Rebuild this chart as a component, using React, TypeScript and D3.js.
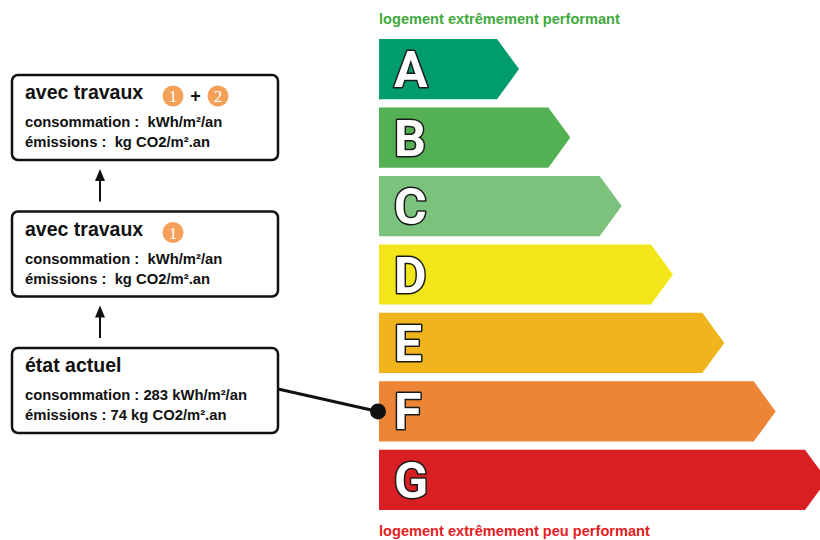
import React, { useEffect, useRef } from 'react';
import * as d3 from 'd3';

// energy classes, best to worst
const classes = ['A', 'B', 'C', 'D', 'E', 'F', 'G'];
const classColors = ['#009c6d', '#53b154', '#7bc27c', '#f2e61b', '#f0b41d', '#ec8536', '#d71f24'];
// relative bar length (rank) of each class
const classRank = [0, 1, 2, 3, 4, 5, 6];

// boxes on the left, from top to bottom
const boxTitles = ['avec travaux', 'avec travaux', 'état actuel'];
const boxBadges = [['1', '2'], ['1'], []];
const boxConso = ['consommation :  kWh/m²/an', 'consommation :  kWh/m²/an', 'consommation : 283 kWh/m²/an'];
const boxEmis = ['émissions :  kg CO2/m².an', 'émissions :  kg CO2/m².an', 'émissions : 74 kg CO2/m².an'];
const currentClass = 'F';

const topLabel = 'logement extrêmement performant';
const bottomLabel = 'logement extrêmement peu performant';

const App = () => {
  const ref = useRef(null);
  const width = 820;
  const height = 540;

  useEffect(() => {
    const svg = d3.select(ref.current);
    svg.selectAll('*').remove();

    const font = '"Liberation Sans", Arial, sans-serif';

    // vertical band per class
    const y = d3.scaleBand().domain(classes).range([39, 510]).paddingInner(0.12);
    // tip position of each arrow
    const tip = d3.scaleLinear().domain([0, 6]).range([519, 827]);
    const x0 = 379;
    const point = 22;

    svg.append('text')
      .attr('x', x0).attr('y', 24)
      .attr('font-family', font).attr('font-weight', 'bold').attr('font-size', 14.6)
      .attr('fill', '#3fa93d')
      .text(topLabel);

    svg.append('text')
      .attr('x', x0).attr('y', 535.5)
      .attr('font-family', font).attr('font-weight', 'bold').attr('font-size', 14.6)
      .attr('fill', '#e3201e')
      .text(bottomLabel);

    const bars = svg.selectAll('.cls')
      .data(classes)
      .enter().append('g')
      .attr('class', 'cls');

    bars.append('path')
      .attr('d', (d, i) => {
        const top = y(d);
        const h = y.bandwidth();
        const t = tip(classRank[i]);
        return `M${x0},${top}H${t - point}L${t},${top + h / 2}L${t - point},${top + h}H${x0}Z`;
      })
      .attr('fill', (d, i) => classColors[i]);

    bars.append('text')
      .attr('x', x0 + 15)
      .attr('y', d => y(d) + y.bandwidth() / 2 + 18)
      .attr('font-family', 'Roboto, sans-serif')
      .attr('font-weight', 'bold')
      .attr('font-size', 50)
      .attr('fill', '#fff')
      .attr('stroke', '#1a1a1a')
      .attr('stroke-width', 3)
      .attr('paint-order', 'stroke')
      .attr('stroke-linejoin', 'round')
      .text(d => d);

    // left boxes
    const boxY = d3.scalePoint().domain(d3.range(boxTitles.length).map(String)).range([75, 348]);
    const bx = 12, bw = 266, bh = 85;

    boxTitles.forEach((title, i) => {
      const top = boxY(String(i));
      const g = svg.append('g');
      g.append('rect')
        .attr('x', bx).attr('y', top).attr('width', bw).attr('height', bh)
        .attr('rx', 6)
        .attr('fill', '#fff').attr('stroke', '#111').attr('stroke-width', 2.5);
      g.append('text')
        .attr('x', 25).attr('y', top + 24)
        .attr('font-family', font).attr('font-weight', 'bold').attr('font-size', 19.5)
        .attr('fill', '#111')
        .text(title);
      g.append('text')
        .attr('x', 25).attr('y', top + 52)
        .attr('font-family', font).attr('font-weight', 'bold').attr('font-size', 14.8)
        .attr('fill', '#111')
        .style('white-space', 'pre')
        .text(boxConso[i]);
      g.append('text')
        .attr('x', 25).attr('y', top + 72)
        .attr('font-family', font).attr('font-weight', 'bold').attr('font-size', 14.8)
        .attr('fill', '#111')
        .style('white-space', 'pre')
        .text(boxEmis[i]);

      boxBadges[i].forEach((b, j) => {
        const cx = 173 + j * 45;
        const cy = top + 21;
        g.append('circle').attr('cx', cx).attr('cy', cy).attr('r', 10.5).attr('fill', '#f5a059');
        g.append('text')
          .attr('x', cx).attr('y', cy + 6)
          .attr('text-anchor', 'middle')
          .attr('font-family', '"Liberation Serif", serif').attr('font-size', 17)
          .attr('fill', '#fff')
          .text(b);
        if (j > 0) {
          g.append('text')
            .attr('x', cx - 22.5).attr('y', cy + 6)
            .attr('text-anchor', 'middle')
            .attr('font-family', font).attr('font-weight', 'bold').attr('font-size', 18)
            .attr('fill', '#111')
            .text('+');
        }
      });

      // upward arrow to the box above
      if (i > 0) {
        const prevBottom = boxY(String(i - 1)) + bh;
        const yb = top - 10;
        const yt = prevBottom + 9;
        g.append('line')
          .attr('x1', 100).attr('x2', 100).attr('y1', yb).attr('y2', yt + 8)
          .attr('stroke', '#111').attr('stroke-width', 2);
        g.append('path')
          .attr('d', `M100,${yt}L105,${yt + 12}L95,${yt + 12}Z`)
          .attr('fill', '#111');
      }
    });

    // link from current state to its class
    const last = boxY(String(boxTitles.length - 1));
    const cy = y(currentClass) + y.bandwidth() / 2;
    svg.append('line')
      .attr('x1', bx + bw).attr('y1', last + 41)
      .attr('x2', x0 - 1).attr('y2', cy)
      .attr('stroke', '#111').attr('stroke-width', 3);
    svg.append('circle')
      .attr('cx', x0 - 1).attr('cy', cy).attr('r', 8)
      .attr('fill', '#111');
  }, []);

  return (
    <svg
      ref={ref}
      width={width}
      height={height}
      style={{ position: 'absolute', left: 0, top: 0, background: '#fff' }}
    ></svg>
  );
};

export default App;
